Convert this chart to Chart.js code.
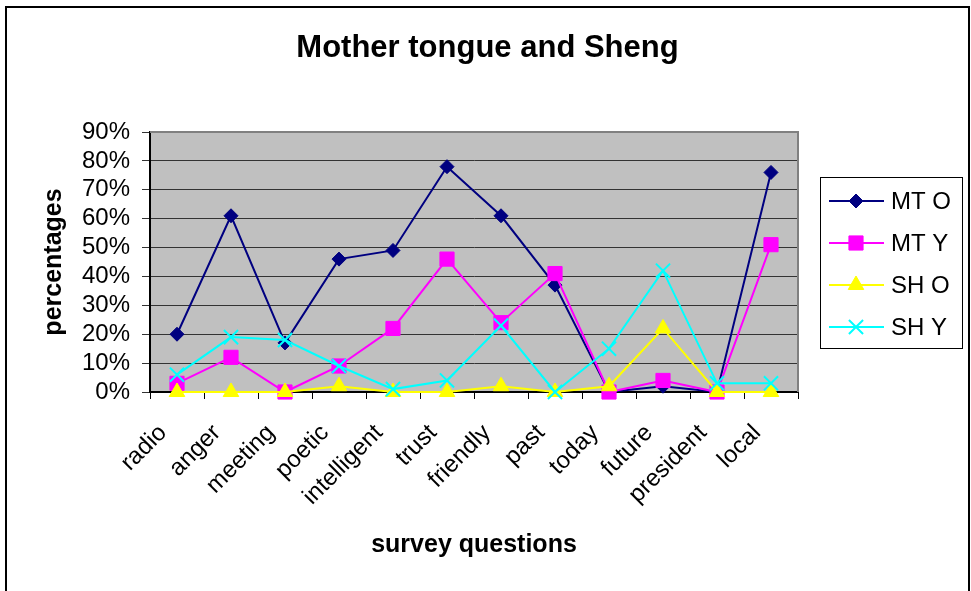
<!DOCTYPE html>
<html>
<head>
<meta charset="utf-8">
<title>Mother tongue and Sheng</title>
<script src="https://cdn.jsdelivr.net/npm/chart.js@4.4.1/dist/chart.umd.min.js"></script>
<style>
  body { margin: 0; background: #fff; }
</style>
</head>
<body>
<canvas id="chartContainer" width="971" height="591"></canvas>
<script>
// categories (survey questions)
const questions = ["radio", "anger", "meeting", "poetic", "intelligent", "trust",
  "friendly", "past", "today", "future", "president", "local"];

// series values in percent
const mtO = [20, 61, 17, 46, 49, 78, 61, 37, 0, 2, 0, 76];
const mtY = [3, 12, 0, 9, 22, 46, 24, 41, 0, 4, 0, 51];
const shO = [0, 0, 0, 2, 0, 0, 2, 0, 2, 22, 0, 0];
const shY = [6, 19, 18, 9, 1, 4, 23, 0, 15, 42, 3, 3];

const seriesNames = ["MT O", "MT Y", "SH O", "SH Y"];
const yTicks = [0, 10, 20, 30, 40, 50, 60, 70, 80, 90];

const FONT = "Arial, 'Liberation Sans', sans-serif";
const chartTitle = "Mother tongue and Sheng";

// chart background, outer frame, title and grey plot area
const backdrop = {
  id: "backdrop",
  beforeDraw(chart) {
    const { ctx, chartArea: a } = chart;
    ctx.save();
    ctx.fillStyle = "#fff";
    ctx.fillRect(0, 0, chart.width, chart.height);
    ctx.fillStyle = "#c0c0c0";
    ctx.fillRect(a.left, a.top, a.right - a.left, a.bottom - a.top);
    // title is centred on the whole picture, not on the plot
    ctx.fillStyle = "#000";
    ctx.font = "bold 31px " + FONT;
    ctx.textAlign = "center";
    ctx.textBaseline = "middle";
    ctx.fillText(chartTitle, 487.5, 48);
    ctx.restore();
  },
  beforeDatasetsDraw(chart) {
    const { ctx, chartArea: a } = chart;
    ctx.save();
    ctx.strokeStyle = "#808080";
    ctx.lineWidth = 2;
    ctx.beginPath();
    ctx.moveTo(a.left, a.top);
    ctx.lineTo(a.right, a.top);
    ctx.lineTo(a.right, a.bottom);
    ctx.stroke();
    ctx.restore();
  },
  afterDraw(chart) {
    const ctx = chart.ctx;
    ctx.save();
    ctx.strokeStyle = "#000";
    ctx.lineWidth = 2;
    ctx.strokeRect(6, 7, 963, 600);
    ctx.restore();
  }
};

function marker(ctx, ds, x, y) {
  const r = ds.pointRadius;
  ctx.fillStyle = ds.pointBackgroundColor;
  ctx.strokeStyle = ds.pointBorderColor;
  ctx.lineWidth = ds.pointBorderWidth;
  ctx.beginPath();
  if (ds.pointStyle === "rectRot") {
    ctx.moveTo(x, y - r); ctx.lineTo(x + r, y); ctx.lineTo(x, y + r); ctx.lineTo(x - r, y);
    ctx.closePath(); ctx.fill(); ctx.stroke();
  } else if (ds.pointStyle === "rect") {
    const s = r * Math.SQRT1_2;
    ctx.rect(x - s, y - s, 2 * s, 2 * s); ctx.fill(); ctx.stroke();
  } else if (ds.pointStyle === "triangle") {
    ctx.moveTo(x, y - r);
    ctx.lineTo(x + r * Math.sin(Math.PI / 3), y + r / 2);
    ctx.lineTo(x - r * Math.sin(Math.PI / 3), y + r / 2);
    ctx.closePath(); ctx.fill(); ctx.stroke();
  } else {
    const s = r * Math.SQRT1_2;
    ctx.moveTo(x - s, y - s); ctx.lineTo(x + s, y + s);
    ctx.moveTo(x + s, y - s); ctx.lineTo(x - s, y + s);
    ctx.stroke();
  }
}

// legend box on the right, drawn like the original (line + marker)
const sideLegend = {
  id: "sideLegend",
  afterDraw(chart) {
    const ctx = chart.ctx;
    ctx.save();
    ctx.strokeStyle = "#000";
    ctx.lineWidth = 1;
    ctx.strokeRect(820.5, 177.5, 142, 171);
    ctx.font = "24px " + FONT;
    ctx.textBaseline = "middle";
    ctx.textAlign = "left";
    chart.data.datasets.forEach((ds, i) => {
      const y = 201 + i * 42;
      ctx.strokeStyle = ds.borderColor;
      ctx.lineWidth = 2;
      ctx.beginPath();
      ctx.moveTo(829, y);
      ctx.lineTo(884, y);
      ctx.stroke();
      marker(ctx, ds, 856, y);
      ctx.fillStyle = "#000";
      ctx.fillText(seriesNames[i], 891, y + 1);
    });
    ctx.restore();
  }
};

function series(label, values, color, style, radius, order) {
  return {
    label: label,
    data: values,
    borderColor: color,
    backgroundColor: color,
    borderWidth: 2,
    pointStyle: style,
    pointRadius: radius,
    pointHoverRadius: radius,
    pointBackgroundColor: color,
    pointBorderColor: color,
    pointBorderWidth: style === "crossRot" ? 2 : 1,
    tension: 0,
    clip: false,
    order: order
  };
}

const config = {
  type: "line",
  data: {
    labels: questions,
    datasets: [
      series("MT O", mtO, "#000080", "rectRot", 7, 4),
      series("MT Y", mtY, "#ff00ff", "rect", 10, 3),
      series("SH O", shO, "#ffff00", "triangle", 9, 2),
      series("SH Y", shY, "#00ffff", "crossRot", 10, 1)
    ]
  },
  options: {
    responsive: false,
    animation: false,
    events: [],
    layout: { padding: { left: 35, right: 173, top: 132, bottom: 27 } },
    plugins: {
      legend: { display: false },
      tooltip: { enabled: false },
      title: { display: false }
    },
    scales: {
      x: {
        type: "category",
        offset: true,
        grid: { offset: true, drawOnChartArea: false, drawTicks: true, tickLength: 7, color: "#000" },
        border: { color: "#000", width: 2 },
        ticks: {
          color: "#000",
          font: { family: FONT, size: 24 },
          minRotation: 45,
          maxRotation: 45,
          autoSkip: false,
          labelOffset: -14,
          padding: 20
        },
        title: {
          display: true,
          text: "survey questions",
          color: "#000",
          font: { family: FONT, size: 25, weight: "bold" }
        },
        afterFit(scale) { scale.height = 172; }
      },
      y: {
        min: 0,
        max: 90,
        afterBuildTicks(scale) { scale.ticks = yTicks.map(v => ({ value: v })); },
        grid: { color: "#333", tickLength: 8, lineWidth: 1 },
        border: { color: "#000", width: 2 },
        ticks: {
          color: "#000",
          font: { family: FONT, size: 24 },
          padding: 12,
          autoSkip: false,
          callback: v => v + "%"
        },
        title: {
          display: true,
          text: "percentages",
          color: "#000",
          font: { family: FONT, size: 25, weight: "bold" }
        },
        afterFit(scale) { scale.width = 115; }
      }
    }
  },
  plugins: [backdrop, sideLegend]
};

const ctx = document.getElementById("chartContainer").getContext("2d");
const surveyChart = new Chart(ctx, config);
</script>
</body>
</html>
